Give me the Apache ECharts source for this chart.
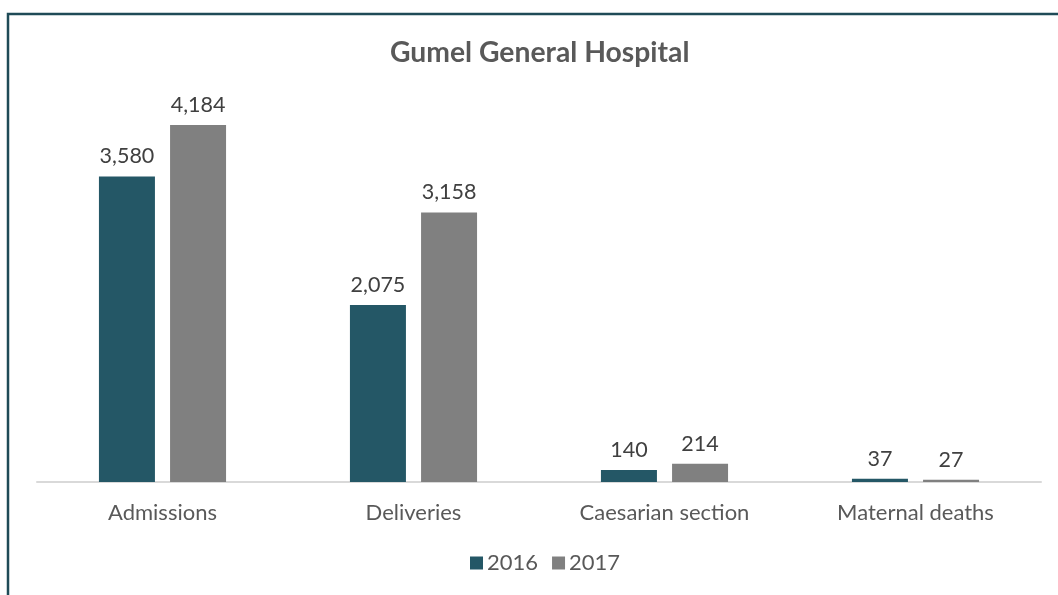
<!DOCTYPE html>
<html><head><meta charset="utf-8">
<script src="https://cdn.jsdelivr.net/npm/echarts@6/dist/echarts.min.js"></script>
<style>html,body{margin:0;padding:0;background:#fff}#c{width:1058px;height:595px}</style>
</head><body><div id="c"></div>
<script>
const categories = ['Admissions', 'Deliveries', 'Caesarian section', 'Maternal deaths'];
const values2016 = [3580, 2075, 140, 37];
const values2017 = [4184, 3158, 214, 27];
const seriesNames = ['2016', '2017'];
const titleText = 'Gumel General Hospital';

const chart = echarts.init(document.getElementById('c'));
const fontFam = 'Lato, "Open Sans", sans-serif';
const fmt = v => v.value.toLocaleString('en-US');
chart.setOption({
  animation: false,
  title: { text: titleText, left: 385, top: 34,
    textStyle: { fontFamily: fontFam, fontSize: 28.3, fontWeight: 'bold', color: '#595959' } },
  graphic: [{ type: 'polyline', shape: { points: [[8, 595], [8, 14], [1058, 14]] },
    style: { stroke: '#1f4b57', lineWidth: 2.5, fill: null } }],
  legend: { bottom: 16, left: 465, itemWidth: 13, itemHeight: 13, itemGap: 14, icon: 'rect',
    textStyle: { fontFamily: fontFam, fontSize: 22, color: '#595959', padding: [0,0,0,-1] },
    data: seriesNames },
  grid: { left: 37, right: 17, top: 98, bottom: 113, containLabel: false },
  xAxis: { type: 'category', data: categories,
    axisLine: { lineStyle: { color: '#d9d9d9', width: 2 } }, axisTick: { show: false },
    axisLabel: { fontFamily: fontFam, fontSize: 22, color: '#595959', margin: 20 } },
  yAxis: { type: 'value', min: 0, max: 4500, show: false, splitLine: { show: false } },
  series: [
    { name: seriesNames[0], type: 'bar', data: values2016, barWidth: 56, barGap: '27%',
      itemStyle: { color: '#245766' },
      label: { show: true, position: 'top', distance: 9, formatter: fmt,
        fontFamily: fontFam, fontSize: 21.5, color: '#404040' } },
    { name: seriesNames[1], type: 'bar', data: values2017, barWidth: 56,
      itemStyle: { color: '#808080' },
      label: { show: true, position: 'top', distance: 9, formatter: fmt,
        fontFamily: fontFam, fontSize: 21.5, color: '#404040' } }
  ]
});
</script></body></html>
